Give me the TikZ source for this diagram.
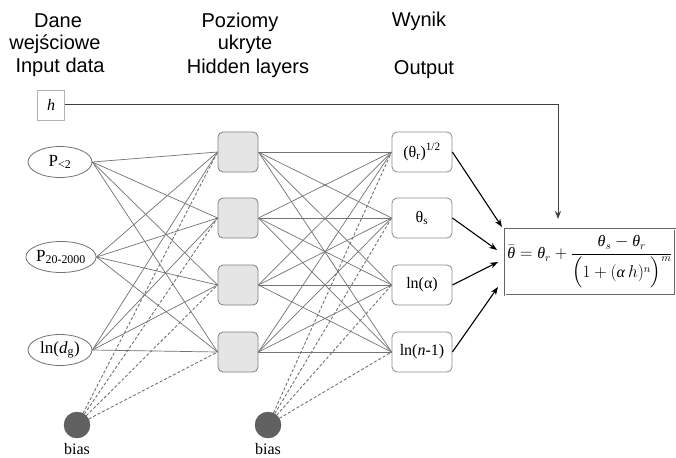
\documentclass[tikz,border=0pt]{standalone}
\usepackage{amsmath}
\usepackage{fontspec}
\setmainfont{Liberation Serif}
\newfontfamily\headfont{Liberation Sans}
\usetikzlibrary{arrows.meta,shapes.geometric,backgrounds}
\newcommand{\tht}{\text{\itshape θ}}
\newcommand{\alf}{\text{\itshape α}}

\begin{document}
\begin{tikzpicture}[x=1pt,y=-1pt,
  head/.style={font=\headfont\fontsize{20}{24}\selectfont, anchor=base, inner sep=0},
  inp/.style={ellipse, draw=black!55, line width=0.8pt, minimum width=64pt,
    minimum height=31pt, inner sep=0, font=\fontsize{17}{20}\selectfont},
  hid/.style={draw=black!50, fill=black!10, rounded corners=5pt,
    minimum size=40pt, line width=0.8pt},
  outb/.style={draw=black!45, fill=white, rounded corners=5pt, minimum width=60pt,
    minimum height=40pt, line width=0.8pt, inner sep=0, font=\fontsize{16}{20}\selectfont},
  biasn/.style={circle, fill=black!62, draw=black!68, minimum size=26pt, inner sep=0},
  biastxt/.style={font=\fontsize{16}{18}\selectfont, inner sep=0, anchor=base},
  wire/.style={draw=black!55, line width=0.7pt},
  bwire/.style={draw=black!55, line width=0.9pt, dash pattern=on 3pt off 2pt},
  res/.style={-{Stealth[length=8pt,width=6pt]}, line width=1.1pt, black}
]

% column headings
\node[head] (t1a) at (58,28) {Dane};
\node[head] (t1b) at (55,50) {wejściowe};
\node[head] (t1c) at (60,73) {Input data};
\node[head] (t2a) at (240,28) {Poziomy};
\node[head] (t2b) at (245,50) {ukryte};
\node[head] (t2c) at (248,74) {Hidden layers};
\node[head] (t3a) at (419,27) {Wynik};
\node[head] (t3c) at (424,75) {Output};

% suction head input
\node[draw=black!30, minimum width=27pt, minimum height=30pt, inner sep=0,
  font=\fontsize{16}{18}\selectfont] (hb) at (51,105) {\itshape h};

% input layer
\node[inp] (i1) at (60,162) {P\textsubscript{<2}};
\node[inp] (i2) at (61,257) {P\textsubscript{20-2000}};
\node[inp] (i3) at (60,350) {ln(\textit{d}\textsubscript{g})};
\node[biasn] (b1) at (77,425) {};
\node[biastxt] (bt1) at (77,454) {bias};

% hidden layer
\foreach \j/\y in {1/152,2/218,3/285,4/352}
  \node[hid] (h\j) at (238,\y) {};
\node[biasn] (b2) at (268,425) {};
\node[biastxt] (bt2) at (268,454) {bias};

% output layer
\node[outb] (o1) at (422,152) {(θ\textsubscript{r})\textsuperscript{1/2}};
\node[outb] (o2) at (422,218) {θ\textsubscript{s}};
\node[outb] (o3) at (422,285) {ln(α)};
\node[outb] (o4) at (422,352) {ln(\textit{n}-1)};

% retention curve model
\node[draw=black!60, double, double distance=1pt, line width=0.5pt,
  minimum width=170pt, minimum height=66pt, inner sep=0,
  font=\fontsize{16}{19}\selectfont] (f) at (590,262)
  {$\bar{\tht}=\tht_{r}+\dfrac{\tht_{s}-\tht_{r}}{\Bigl(1+(\alf\, h)^{n}\Bigr)^{m}}$};

\coordinate (a1) at (502,227);
\coordinate (a2) at (497,250);
\coordinate (a3) at (498,262);
\coordinate (a4) at (498,287);
\coordinate (hin) at (558,219);

\begin{scope}[on background layer]
  \fill[white] (0,0) rectangle (676,457);
  \foreach \i in {1,2,3}
    \foreach \j in {1,...,4}
      \draw[wire] (i\i.east) -- (h\j.west);
  \foreach \j in {1,...,4}
    \draw[bwire] (b1) -- (h\j.west);
  \foreach \j in {1,...,4}
    \foreach \k in {1,...,4}
      \draw[wire] (h\j.east) -- (o\k.west);
  \foreach \k in {1,...,4}
    \draw[bwire] (b2) -- (o\k.west);
\end{scope}

\foreach \k in {1,...,4}
  \draw[res] (o\k.east) -- (a\k);
\draw[res, draw=black!75, line width=1pt] (hb.east) -| (hin);

\end{tikzpicture}
\end{document}
